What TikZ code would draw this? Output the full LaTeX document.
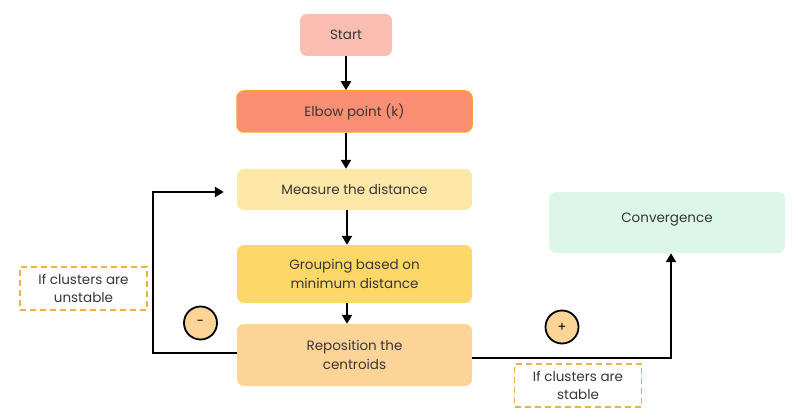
\documentclass[tikz,border=0pt]{standalone}
\usepackage{fontspec}
\setmainfont{Poppins}
\usetikzlibrary{arrows.meta,positioning,calc}

\definecolor{txtgray}{HTML}{3A3633}
\definecolor{startpink}{HTML}{F9BDB2}
\definecolor{elbowred}{HTML}{FA8F74}
\definecolor{elboworange}{HTML}{F6A236}
\definecolor{measureyel}{HTML}{FDE7A9}
\definecolor{groupyel}{HTML}{FDD868}
\definecolor{reposorange}{HTML}{FDD497}
\definecolor{convgreen}{HTML}{DCF7EA}
\definecolor{dashorange}{HTML}{F3AE45}

\tikzset{
	box/.style={rounded corners=7pt, minimum width=235pt, minimum height=41pt, align=center, text=txtgray, font=\fontsize{13.5}{18.5}\selectfont, inner sep=0pt},
	note/.style={draw=dashorange, dashed, dash pattern=on 6pt off 4pt, line width=1.4pt, fill=white, minimum width=127pt, minimum height=43pt, align=center, text=txtgray, font=\fontsize{13.5}{18.5}\selectfont, inner sep=0pt},
	sign/.style={circle, draw=black, line width=1.8pt, fill=reposorange, minimum size=33pt, inner sep=0pt, font=\fontsize{13}{14}\selectfont},
	flow/.style={line width=2.6pt, -{Triangle[length=9pt,width=10pt]}}
}

\begin{document}
\begin{tikzpicture}[x=1pt,y=-1pt]
	\useasboundingbox (0,0) rectangle (798,417);
	% boxes of the main column
	\node[box, fill=startpink, minimum width=92pt, minimum height=42pt] (start) at (346,35) {Start};
	\node[box, fill=elbowred, draw=elboworange, line width=1.5pt] (elbow) at (354.5,111.5) {Elbow point (k)};
	\node[box, fill=measureyel] (measure) at (354.5,189.5) {Measure the distance};
	\node[box, fill=groupyel, minimum height=58pt] (group) at (354.5,274) {Grouping based on\\minimum distance};
	\node[box, fill=reposorange, minimum height=62pt] (repos) at (354.5,355) {Reposition the\\centroids};
	\node[box, fill=convgreen, minimum width=236pt, minimum height=61pt, text depth=10pt] (conv) at (667,222.5) {Convergence};

	% conditions
	\node[note] (unstable) at (83.5,288.5) {If clusters are\\unstable};
	\node[note] (stable) at (578,385.5) {If clusters are\\stable};
	\node[sign] (minus) at (200.5,323) {-};
	\node[sign] (plus) at (562,327) {+};

	% arrows
	\draw[flow] (start.south -| 346,0) -- (elbow.north -| 346,0);
	\draw[flow] (elbow.south -| 346,0) -- (measure.north -| 346,0);
	\draw[flow] (measure.south -| 347,0) -- (group.north -| 347,0);
	\draw[flow] (group.south -| 347,0) -- (repos.north -| 347,0);
	\coordinate (lefttop) at (153,192);
	\coordinate (rightbot) at (671,358);
	\draw[flow] (repos.west |- 0,353) -| (lefttop) -- ($(measure.west |- lefttop)+(-13,0)$);
	\draw[flow] (repos.east |- rightbot) -- (rightbot) -- (conv.south -| rightbot);
\end{tikzpicture}
\end{document}
